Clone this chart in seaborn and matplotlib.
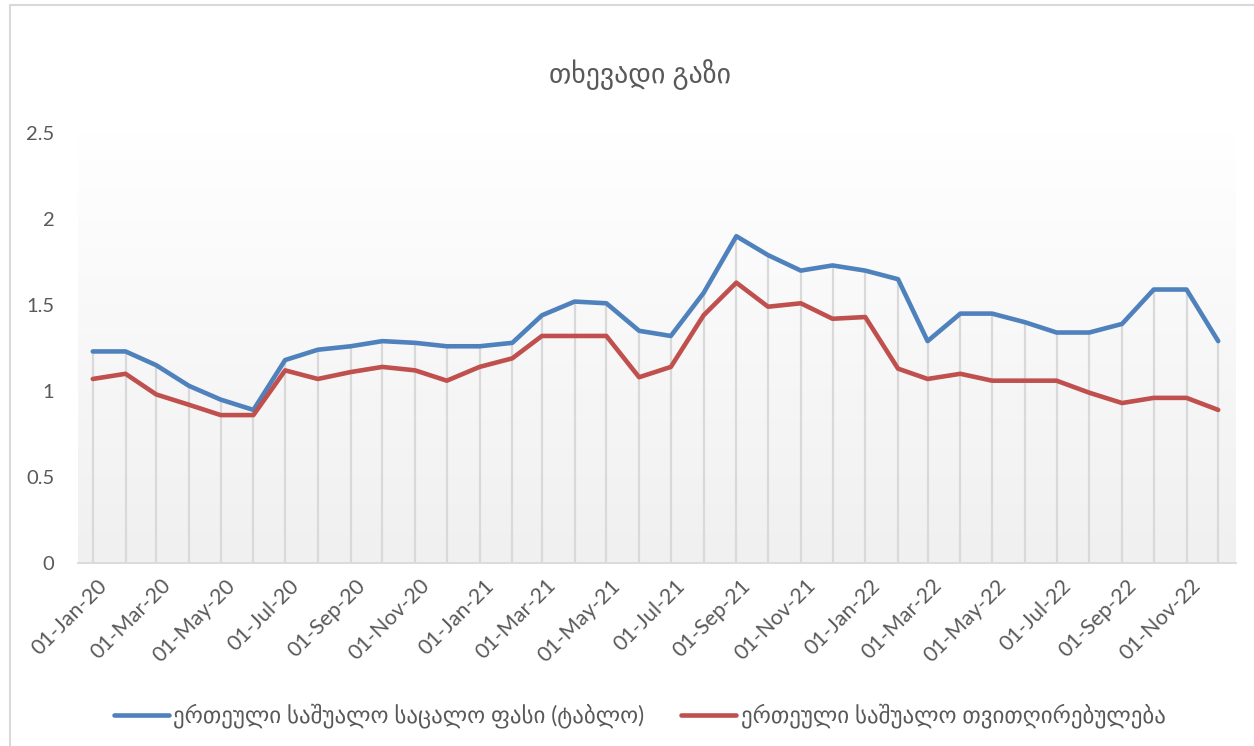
import pandas as pd
import numpy as np
import matplotlib
matplotlib.use("Agg")
import matplotlib.pyplot as plt
import matplotlib.dates as mdates
import matplotlib.ticker as mticker
import matplotlib.transforms as mtransforms
from matplotlib.patches import Rectangle
import seaborn as sns

# monthly values, Jan 2020 - Dec 2022
months = pd.date_range("2020-01-01", "2022-12-01", freq="MS") + pd.Timedelta(days=14)
retail_price = [
    1.23, 1.23, 1.15, 1.03, 0.95, 0.89, 1.18, 1.24, 1.26, 1.29, 1.28, 1.26,
    1.26, 1.28, 1.44, 1.52, 1.51, 1.35, 1.32, 1.57, 1.90, 1.79, 1.70, 1.73,
    1.70, 1.65, 1.29, 1.45, 1.45, 1.40, 1.34, 1.34, 1.39, 1.59, 1.59, 1.29,
]
unit_cost = [
    1.07, 1.10, 0.98, 0.92, 0.86, 0.86, 1.12, 1.07, 1.11, 1.14, 1.12, 1.06,
    1.14, 1.19, 1.32, 1.32, 1.32, 1.08, 1.14, 1.44, 1.63, 1.49, 1.51, 1.42,
    1.43, 1.13, 1.07, 1.10, 1.06, 1.06, 1.06, 0.99, 0.93, 0.96, 0.96, 0.89,
]
title = "თხევადი გაზი"
label_retail = "ერთეული საშუალო საცალო ფასი (ტაბლო)"
label_cost = "ერთეული საშუალო თვითღირებულება"

df = pd.DataFrame({"date": months, label_retail: retail_price, label_cost: unit_cost})
df_long = df.melt(id_vars="date", var_name="series", value_name="value")

sns.set_style("white")
plt.rcParams["font.family"] = ["Lato", "DejaVu Sans"]
text_color = "#595959"
grid_color = "#d9d9d9"

fig = plt.figure(figsize=(12.54, 7.46), dpi=100)
ax = fig.add_axes([78 / 1254, 1 - 563 / 746, (1236 - 78) / 1254, (563 - 133) / 746])

# chart area border
fig.patches.append(Rectangle((10 / 1254, -0.1), 1.2, 1 - 5 / 746 + 0.1,
                             transform=fig.transFigure, fill=False,
                             edgecolor=grid_color, lw=1.5))

# gradient plot area
grad = np.linspace(1, 0, 256).reshape(-1, 1)
ax.imshow(grad, extent=[0, 1, 0, 1], transform=ax.transAxes, aspect="auto",
          cmap=matplotlib.colors.LinearSegmentedColormap.from_list("g", ["#f0f0f0", "#ffffff"]),
          zorder=0)

# drop lines
ax.vlines(df["date"], 0, np.maximum(df[label_retail], df[label_cost]),
          color=grid_color, lw=1.6, zorder=1)

sns.lineplot(data=df_long, x="date", y="value", hue="series",
             palette=["#4F81BD", "#C0504D"], lw=3.3, ax=ax, zorder=3,
             legend=False)

ax.set_xlim(pd.Timestamp("2020-01-01"), pd.Timestamp("2022-12-31 20:00"))
ax.set_ylim(0, 2.5)
ax.set_yticks([0, 0.5, 1, 1.5, 2, 2.5])
ax.yaxis.set_major_formatter(mticker.FuncFormatter(lambda v, p: f"{v:g}"))
ax.xaxis.set_major_locator(mdates.MonthLocator(bymonth=[1, 3, 5, 7, 9, 11]))
ax.xaxis.set_major_formatter(mdates.DateFormatter("%d-%b-%y"))
ax.set_xlabel("")
ax.set_ylabel("")

for s in ["top", "right", "left"]:
    ax.spines[s].set_visible(False)
ax.spines["bottom"].set_color(grid_color)
ax.spines["bottom"].set_linewidth(1.3)

ax.tick_params(axis="y", length=0, pad=17, labelsize=14.5, labelcolor=text_color)
ax.tick_params(axis="x", length=5, width=1.3, color=grid_color, pad=4,
               labelsize=15.5, labelcolor=text_color, direction="out")
offset = mtransforms.ScaledTranslation(19 / 100, 0, fig.dpi_scale_trans)
for lab in ax.get_xticklabels():
    lab.set_rotation(45)
    lab.set_ha("right")
    lab.set_va("top")
    lab.set_rotation_mode("anchor")
    lab.set_transform(lab.get_transform() + offset)

fig.text(0.51, 1 - 75 / 746, title, ha="center", va="center",
         fontsize=20, color=text_color)

handles = [plt.Line2D([], [], color="#4F81BD", lw=3.3),
           plt.Line2D([], [], color="#C0504D", lw=3.3)]
fig.legend(handles, [label_retail, label_cost], loc="center",
           bbox_to_anchor=(0.51, 1 - 716 / 746), ncol=2, frameon=False,
           fontsize=16.5, labelcolor=text_color, handlelength=2.4,
           handletextpad=0.2, columnspacing=1.6)

fig.savefig("out.png", dpi=100)
